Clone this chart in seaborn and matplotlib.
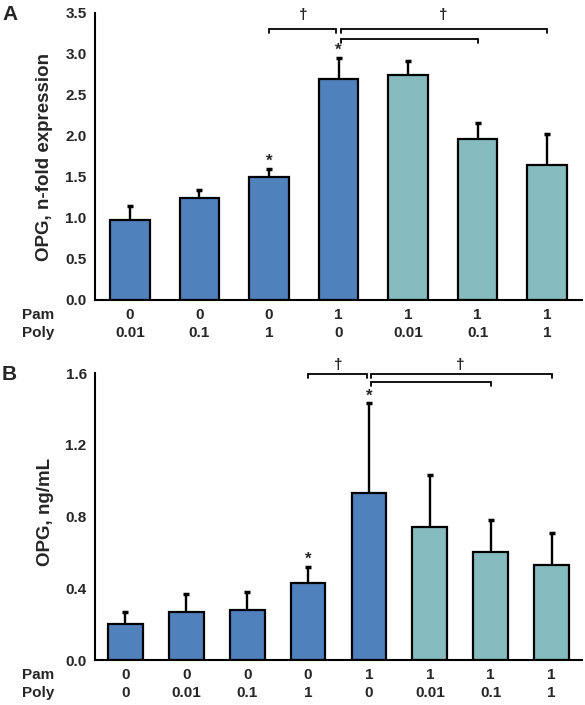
import numpy as np
import pandas as pd
import matplotlib
matplotlib.use("Agg")
import matplotlib.pyplot as plt
import seaborn as sns

# ---------------- data ----------------
pam_A = ["0", "0", "0", "1", "1", "1", "1"]
poly_A = ["0.01", "0.1", "1", "0", "0.01", "0.1", "1"]
opg_A = [0.97, 1.24, 1.50, 2.70, 2.74, 1.96, 1.65]
err_A = [0.18, 0.10, 0.10, 0.25, 0.17, 0.20, 0.37]
group_A = ["single", "single", "single", "single", "combo", "combo", "combo"]
stars_A = [2, 3]
brackets_A = [(2, 3, 3.30), (3, 6, 3.30), (3, 5, 3.18)]
daggers_A = [(2.5, 3.47), (4.5, 3.47)]

pam_B = ["0", "0", "0", "0", "1", "1", "1", "1"]
poly_B = ["0", "0.01", "0.1", "1", "0", "0.01", "0.1", "1"]
opg_B = [0.20, 0.27, 0.28, 0.43, 0.93, 0.74, 0.60, 0.53]
err_B = [0.07, 0.10, 0.10, 0.09, 0.50, 0.29, 0.18, 0.18]
group_B = ["single", "single", "single", "single", "single", "combo", "combo", "combo"]
stars_B = [3, 4]
brackets_B = [(3, 4, 1.594), (4, 7, 1.594), (4, 6, 1.55)]
daggers_B = [(3.5, 1.645), (5.5, 1.645)]

palette = {"single": "#4F81BD", "combo": "#86BCC0"}

sns.set_theme(style="white")
plt.rcParams["font.family"] = ["Liberation Sans", "DejaVu Sans"]
plt.rcParams["font.weight"] = "bold"

TICK_FS = 11
W, H = 585, 705
fig = plt.figure(figsize=(W / 100, H / 100), dpi=100)


def px_ax(left, top, right, bottom):
    return fig.add_axes([left / W, 1 - bottom / H, (right - left) / W, (bottom - top) / H])


def panel(ax, pam, poly, vals, errs, groups, ylim, yticks, stars, brackets, daggers, star_off, br_drop):
    n = len(vals)
    df = pd.DataFrame({"pos": [str(i) for i in range(n)], "val": vals, "group": groups})
    sns.barplot(data=df, x="pos", y="val", hue="group", palette=palette, dodge=False,
                width=0.57, edgecolor="black", linewidth=1.6, ax=ax, legend=False,
                errorbar=None, saturation=1)
    xs = np.arange(n)
    eb = ax.errorbar(xs, vals, yerr=[np.zeros(n), errs], fmt="none", ecolor="black",
                     elinewidth=1.7, capsize=2.5, capthick=2.5, zorder=0.5)
    # hide the zero-length lower caps
    caps = eb[1]
    if len(caps) == 2:
        caps[0].set_visible(False)
    ax.set_xlim(-0.5, n - 0.5)
    ax.set_ylim(*ylim)
    ax.set_yticks(yticks)
    ax.set_yticklabels([f"{t:.1f}" for t in yticks], fontsize=TICK_FS, fontweight="bold")
    # x ticks at category boundaries, labels at centres
    ax.set_xticks(np.arange(0.5, n - 0.5, 1.0))
    ax.set_xticklabels([])
    ax.set_xticks(xs, minor=True)
    ax.set_xticklabels([f"{a}\n{b}" for a, b in zip(pam, poly)], minor=True,
                       fontsize=TICK_FS, fontweight="bold")
    for lbl in ax.get_xticklabels(minor=True):
        lbl.set_linespacing(1.3)
    ax.tick_params(axis="x", which="minor", length=0, pad=6)
    ax.tick_params(axis="x", which="major", length=4, width=1.3, direction="out")
    ax.tick_params(axis="y", length=4, width=1.3, direction="out", pad=2)
    ax.set_xlabel("")
    ax.set_ylabel("")
    for s in ["top", "right"]:
        ax.spines[s].set_visible(False)
    for s in ["left", "bottom"]:
        ax.spines[s].set_linewidth(1.5)
        ax.spines[s].set_color("black")
    for i in stars:
        ax.text(i, vals[i] + errs[i] + star_off, "*", ha="center", va="bottom",
                fontsize=12, fontweight="bold", clip_on=False)
    for a, b, y in brackets:
        if b - a == 1:
            x0, x1 = a, b - 0.04
        else:
            x0, x1 = a + 0.04, b
        ax.plot([x0, x0, x1, x1], [y - br_drop, y, y, y - br_drop], color="black",
                lw=1.3, clip_on=False, solid_joinstyle="miter")
    for x, y in daggers:
        ax.text(x, y, "\u2020", ha="center", va="center", fontsize=11,
                fontweight="bold", clip_on=False)


axA = px_ax(95, 13, 582, 300)
panel(axA, pam_A, poly_A, opg_A, err_A, group_A, (0, 3.5),
      np.arange(0, 3.51, 0.5), stars_A, brackets_A, daggers_A, 0.0, 0.05)

axB = px_ax(95, 373, 582, 660)
panel(axB, pam_B, poly_B, opg_B, err_B, group_B, (0, 1.6),
      np.arange(0, 1.61, 0.4), stars_B, brackets_B, daggers_B, 0.0, 0.022)

# row labels
for y0 in (315, 675):
    fig.text(22 / W, 1 - y0 / H, "Pam", ha="left", va="center", fontsize=TICK_FS, fontweight="bold")
    fig.text(22 / W, 1 - (y0 + 18) / H, "Poly", ha="left", va="center", fontsize=TICK_FS, fontweight="bold")

# y labels
fig.text(45 / W, 1 - 157 / H, "OPG, n-fold expression", rotation=90, ha="center", va="center",
         fontsize=13.5, fontweight="bold")
fig.text(45 / W, 1 - 512 / H, "OPG, ng/mL", rotation=90, ha="center", va="center",
         fontsize=13.5, fontweight="bold")

# panel letters
fig.text(2 / W, 1 - 14 / H, "A", ha="left", va="center", fontsize=15, fontweight="bold")
fig.text(2 / W, 1 - 375 / H, "B", ha="left", va="center", fontsize=15, fontweight="bold")

fig.savefig("out.png", dpi=100)
